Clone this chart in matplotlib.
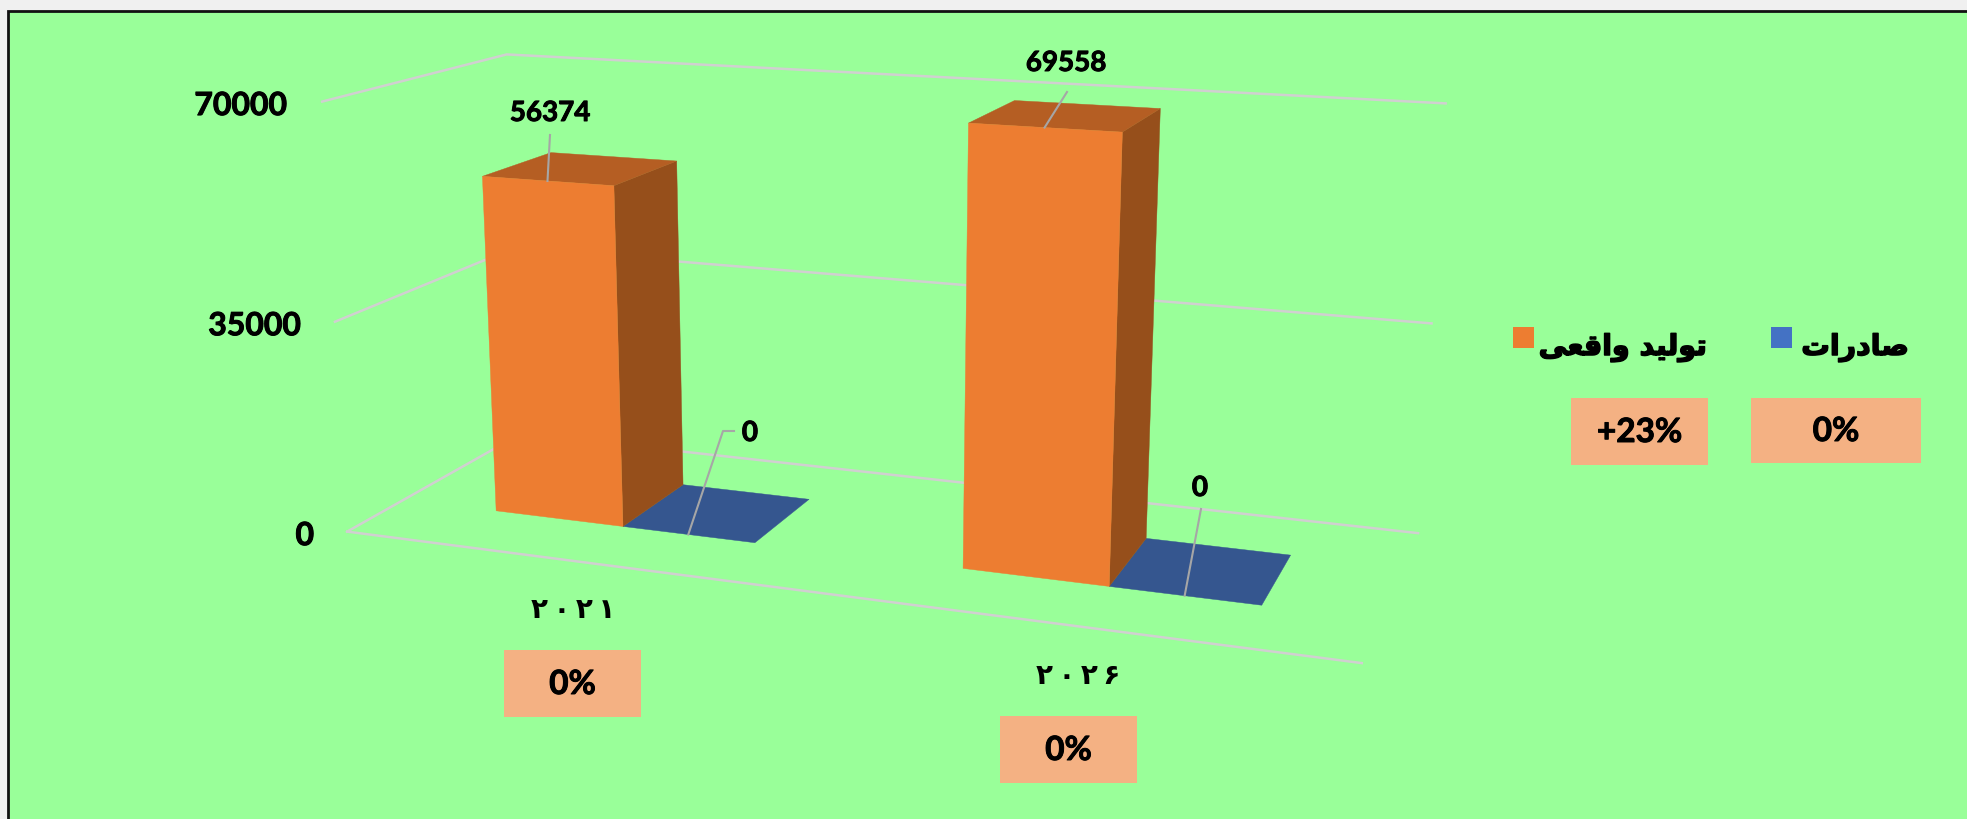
"""Perspective 3D column chart, drawn on a pixel-sized 2D axes with a fitted camera."""

import numpy as np
import matplotlib

matplotlib.use("Agg")
import matplotlib.pyplot as plt
import matplotlib.patheffects as pe
from matplotlib.patches import Polygon, Rectangle

# data
categories = ["۲۰۲۱", "۲۰۲۶"]
category_change = ["0%", "0%"]
series_names = ["تولید واقعی", "صادرات"]
series_change = ["+23%", "0%"]
production = [56374, 69558]
exports = [0, 0]
y_ticks = [0, 35000, 70000]
y_max = 70000

# colours
OUTER = "#F0F0F0"
PANEL = "#99FF99"
ORANGE = ("#ED7D31", "#B55E23", "#964F1B")  # front, top, side
BLUE = ("#4472C4", "#35568F", "#2A4474")
BOX = "#F4B183"
GRID = "#D0D0D0"
LEADER = "#A6A6A6"

# camera anchors: (x, depth, height as share of y_max) -> pixel in the figure
ANCHORS = [
    ((0, 0, 0), (348, 531)), ((1, 0, 0), (1362, 663)),
    ((0, 1, 0), (520, 434)), ((1, 1, 0), (1418, 533)),
    ((0, 0, .5), (335, 322)), ((0, 1, .5), (514, 248)), ((1, 1, .5), (1432, 324)),
    ((0, 0, 1), (321, 102)), ((0, 1, 1), (508, 54)), ((1, 1, 1), (1445, 103)),
]
GAP_WIDTH = 1.5
DEPTH = (0.3, 0.7)

LATIN = "Lato"
ARABIC = "DejaVu Sans"
# the reference fonts are heavier than anything installed
HEAVY = [pe.withStroke(linewidth=0.7, foreground="black")]
HEAVIER = [pe.withStroke(linewidth=1.1, foreground="black")]

# presentation forms: isolated, final, initial, medial
FORMS = {
    "ص": "\uFEB9\uFEBA\uFEBB\uFEBC", "ت": "\uFE95\uFE96\uFE97\uFE98",
    "ل": "\uFEDD\uFEDE\uFEDF\uFEE0", "ی": "\uFBFC\uFBFD\uFBFE\uFBFF",
    "ق": "\uFED5\uFED6\uFED7\uFED8", "ع": "\uFEC9\uFECA\uFECB\uFECC",
    "ا": "\uFE8D\uFE8E", "د": "\uFEA9\uFEAA", "ر": "\uFEAD\uFEAE", "و": "\uFEED\uFEEE",
}


def shape_rtl(text):
    """matplotlib does no Arabic shaping, so join the letters and reverse them."""
    shaped = []
    for i, ch in enumerate(text):
        if ch not in FORMS:
            shaped.append(ch)
            continue
        prev_joins = i > 0 and len(FORMS.get(text[i - 1], "")) == 4
        next_joins = i + 1 < len(text) and text[i + 1] in FORMS
        forms = FORMS[ch]
        if len(forms) == 2:
            shaped.append(forms[1 if prev_joins else 0])
        else:
            shaped.append(forms[(2 + prev_joins if next_joins else prev_joins)])
    return "".join(reversed(shaped))


def fit_camera(pairs):
    rows = []
    for (x, y, z), (u, v) in pairs:
        rows.append([x, y, z, 1, 0, 0, 0, 0, -u * x, -u * y, -u * z, -u])
        rows.append([0, 0, 0, 0, x, y, z, 1, -v * x, -v * y, -v * z, -v])
    return np.linalg.svd(np.array(rows, float))[2][-1].reshape(3, 4)


camera = fit_camera(ANCHORS)


def project(x, d, value):
    q = camera @ np.array([x, d, value / y_max, 1.0])
    return q[:2] / q[2]


def draw_bar(ax, x0, x1, value, colours):
    d0, d1 = DEPTH
    if value == 0:
        # a zero column is only its floor
        floor = [project(x0, d0, 0), project(x1, d0, 0), project(x1, d1, 0), project(x0, d1, 0)]
        ax.add_patch(Polygon(floor, fc=colours[1], ec=colours[1], lw=0.3, zorder=3))
        return
    side = [project(x1, d0, 0), project(x1, d1, 0), project(x1, d1, value), project(x1, d0, value)]
    top = [project(x0, d0, value), project(x1, d0, value), project(x1, d1, value), project(x0, d1, value)]
    front = [project(x0, d0, 0), project(x1, d0, 0), project(x1, d0, value), project(x0, d0, value)]
    for pts, col in zip((side, top, front), (colours[2], colours[1], colours[0])):
        ax.add_patch(Polygon(pts, fc=col, ec=col, lw=0.3, zorder=4))


def latin_text(ax, x, y, text, size, ha="center"):
    ax.text(x, y, text, ha=ha, va="center", fontsize=size, fontweight="bold", family=LATIN, zorder=7,
            path_effects=HEAVY)


def value_box(ax, x0, y0, x1, y1, text, size=24):
    ax.add_patch(Rectangle((x0, y0), x1 - x0, y1 - y0, fc=BOX, ec="none", zorder=2))
    latin_text(ax, (x0 + x1) / 2, (y0 + y1) / 2 + 1, text, size)


fig = plt.figure(figsize=(19.67, 8.19), dpi=100, facecolor=OUTER)
ax = fig.add_axes([0, 0, 1, 1])
ax.set_xlim(0, 1967)
ax.set_ylim(819, 0)
ax.axis("off")

ax.add_patch(Rectangle((8, 11), 1970, 820, fc=PANEL, ec="#111111", lw=2, zorder=0))

# walls and floor
for tick in y_ticks:
    pts = np.array([project(0, 0, tick), project(0, 1, tick), project(1, 1, tick)])
    ax.plot(pts[:, 0], pts[:, 1], color=GRID, lw=1.8, zorder=1)
pts = np.array([project(0, 0, 0), project(1, 0, 0)])
ax.plot(pts[:, 0], pts[:, 1], color=GRID, lw=1.8, zorder=1)

# y tick labels
tick_right = [314, 301, 287]
for tick, right in zip(y_ticks, tick_right):
    latin_text(ax, right, project(0, 0, tick)[1] + 4, str(tick), 23, ha="right")

# columns
n_cat = len(categories)
cat_w = 1 / n_cat
bar_w = cat_w / (2 + GAP_WIDTH)
for i in range(n_cat):
    left = i * cat_w + bar_w * GAP_WIDTH / 2
    draw_bar(ax, left + bar_w, left + 2 * bar_w, exports[i], BLUE)
    draw_bar(ax, left, left + bar_w, production[i], ORANGE)

# value labels with leader lines; the lines end on the column they name
prod_label_xy = [(550, 113), (1066, 63)]
prod_leader_top = [(550, 135), (1067, 92)]
exp_label_xy = [(750, 433), (1200, 488)]
exp_leader_top = [[(734, 431), (723, 431)], [(1201, 509)]]
for i in range(n_cat):
    left = i * cat_w + bar_w * GAP_WIDTH / 2
    end = project(left + bar_w / 2, DEPTH[0], production[i])
    line = np.array([prod_leader_top[i], end])
    ax.plot(line[:, 0], line[:, 1], color=LEADER, lw=1.5, zorder=6)
    latin_text(ax, *prod_label_xy[i], str(production[i]), 20)

    end = project(left + 1.5 * bar_w, DEPTH[0], exports[i])
    line = np.array([*exp_leader_top[i], end])
    ax.plot(line[:, 0], line[:, 1], color=LEADER, lw=1.5, zorder=6)
    latin_text(ax, *exp_label_xy[i], str(exports[i]), 20)

# category labels and their boxes
cat_label_xy = [(573, 610), (1078, 676)]
cat_box = [(504, 650, 641, 717), (1000, 716, 1137, 783)]
for i in range(n_cat):
    ax.text(*cat_label_xy[i], "\u2009".join(categories[i]), ha="center", va="center", fontsize=20,
            fontweight="bold", family=ARABIC)
    value_box(ax, *cat_box[i], category_change[i])

# legend
legend_square_x = [1513, 1771]
legend_text_x = [1623, 1855]
legend_box = [(1571, 398, 1708, 465), (1751, 398, 1921, 463)]
legend_colours = [ORANGE[0], BLUE[0]]
for i in range(2):
    ax.add_patch(Rectangle((legend_square_x[i], 327), 21, 21, fc=legend_colours[i], ec="none", zorder=3))
    ax.text(legend_text_x[i], 348, shape_rtl(series_names[i]), ha="center", va="center", fontsize=20.5,
            fontweight="bold", family=ARABIC, path_effects=HEAVIER)
    value_box(ax, *legend_box[i], series_change[i])

fig.savefig("out.png", dpi=100, facecolor=OUTER)
